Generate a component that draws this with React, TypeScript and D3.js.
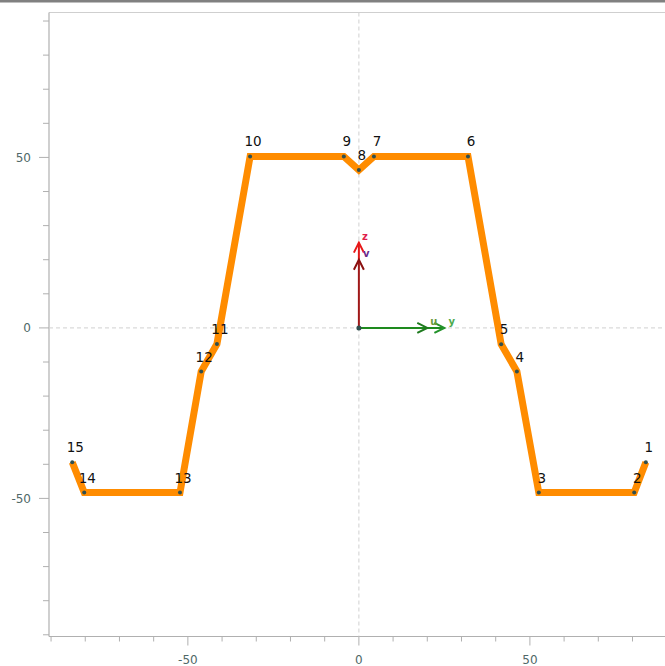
import React from "react";
import * as d3 from "d3";

const pointIds = [1, 2, 3, 4, 5, 6, 7, 8, 9, 10, 11, 12, 13, 14, 15];
const pointX = [83.9, 80.5, 52.6, 46.2, 41.6, 31.9, 4.4, 0, -4.4, -31.8, -41.5, -46.1, -52.3, -80.3, -83.8];
const pointY = [-39.4, -48.3, -48.3, -12.8, -4.8, 50.3, 50.3, 46.3, 50.3, 50.3, -4.7, -12.8, -48.3, -48.3, -39.4];
const xTicks = [-90, -80, -70, -60, -50, -40, -30, -20, -10, 0, 10, 20, 30, 40, 50, 60, 70, 80];
const yTicks = [-90, -80, -70, -60, -50, -40, -30, -20, -10, 0, 10, 20, 30, 40, 50, 60, 70, 80, 90];
const labelTicks = [-50, 0, 50];
const frameNames = ["y", "z", "u", "v"];
const frameLengths = [25, 25, 20, 20];

const W = 665;
const H = 666;
const left = 49;
const top = 12.5;
const bottom = 636.5;
const right = 665;

export default function App() {
  const x = d3.scaleLinear().domain([-90.6, 89.5]).range([left, right]);
  const y = d3.scaleLinear().domain([-90.5, 92.5]).range([bottom, top]);
  const pts = pointX.map((v, i) => [v, pointY[i]] as [number, number]);
  const line = d3.line<[number, number]>().x((d) => x(d[0])).y((d) => y(d[1]));
  const font = "'DejaVu Sans', Verdana, sans-serif";
  const tickColor = "#506868";

  const ox = x(0);
  const oy = y(0);
  const chevronRight = (tx: number, ty: number) => `M${tx - 10},${ty - 5} L${tx},${ty} L${tx - 10},${ty + 5}`;
  const chevronUp = (tx: number, ty: number) => `M${tx - 5},${ty + 10} L${tx},${ty} L${tx + 5},${ty + 10}`;

  const yTip = x(frameLengths[0]);
  const zTip = y(frameLengths[1]);
  const uTip = x(frameLengths[2]);
  const vTip = y(frameLengths[3]);

  return (
    <svg width={W} height={H} style={{ position: "absolute", left: 0, top: 0, background: "#fff" }}>
      <rect x={0} y={0} width={W} height={2.5} fill="#808080" />
      <line x1={left} x2={right} y1={top} y2={top} stroke="#cfcfcf" strokeWidth={1} />
      <line x1={left} x2={left} y1={top} y2={bottom} stroke="#b0b0b0" strokeWidth={1.2} />
      <line x1={left} x2={right} y1={bottom} y2={bottom} stroke="#b0b0b0" strokeWidth={1.2} />
      <line x1={ox} x2={ox} y1={top} y2={bottom} stroke="#d0d0d0" strokeDasharray="4,3" />
      <line x1={left} x2={right} y1={oy} y2={oy} stroke="#d0d0d0" strokeDasharray="4,3" />
      {xTicks.map((t) => (
        <line key={"xt" + t} x1={x(t)} x2={x(t)} y1={bottom} y2={bottom + (labelTicks.includes(t) ? 9 : 5)} stroke="#b0b0b0" />
      ))}
      {labelTicks.map((t) => (
        <text key={"xl" + t} x={x(t)} y={663.5} textAnchor="middle" fontFamily={font} fontSize={12} fill={tickColor}>
          {t}
        </text>
      ))}
      {yTicks.map((t) => (
        <line key={"yt" + t} x1={left} x2={left - (labelTicks.includes(t) ? 10 : 6)} y1={y(t)} y2={y(t)} stroke="#b0b0b0" />
      ))}
      {labelTicks.map((t) => (
        <text key={"yl" + t} x={31} y={y(t) + 4.5} textAnchor="end" fontFamily={font} fontSize={12} fill={tickColor}>
          {t}
        </text>
      ))}
      <line x1={ox} x2={ox} y1={oy} y2={vTip} stroke="#a01818" strokeWidth={2} />
      <line x1={ox} x2={ox} y1={vTip} y2={zTip} stroke="#e01818" strokeWidth={2} />
      <path d={chevronUp(ox, vTip)} fill="none" stroke="#8b1010" strokeWidth={2} />
      <path d={chevronUp(ox, zTip)} fill="none" stroke="#e81818" strokeWidth={2} />
      <line x1={ox} x2={yTip} y1={oy} y2={oy} stroke="#1e8a1e" strokeWidth={2} />
      <path d={chevronRight(uTip, oy)} fill="none" stroke="#1e7a1e" strokeWidth={2} />
      <path d={chevronRight(yTip, oy)} fill="none" stroke="#22922a" strokeWidth={2} />
      <text x={ox + 3} y={zTip - 3} fontFamily={font} fontSize={10} fontWeight="bold" fill="#e0204a">{frameNames[1]}</text>
      <text x={ox + 4} y={vTip - 3} fontFamily={font} fontSize={10} fontWeight="bold" fill="#6a2a8a">{frameNames[3]}</text>
      <text x={uTip + 3} y={oy - 3} fontFamily={font} fontSize={10} fontWeight="bold" fill="#6a9a3a">{frameNames[2]}</text>
      <text x={yTip + 4} y={oy - 3} fontFamily={font} fontSize={10} fontWeight="bold" fill="#4caa4c">{frameNames[0]}</text>
      <circle cx={ox} cy={oy} r={2.5} fill="#2f4f4f" />
      <path d={line(pts) || ""} fill="none" stroke="#ff8c00" strokeWidth={7} strokeLinejoin="miter" strokeLinecap="butt" />
      {pts.map((p, i) => (
        <circle key={"p" + i} cx={x(p[0])} cy={y(p[1])} r={2} fill="#2f4f4f" />
      ))}
      {pts.map((p, i) => (
        <text key={"l" + i} x={x(p[0]) + 3} y={y(p[1]) - 10} textAnchor="middle" fontFamily={font} fontSize={13.5} fill="#111">
          {pointIds[i]}
        </text>
      ))}
    </svg>
  );
}
